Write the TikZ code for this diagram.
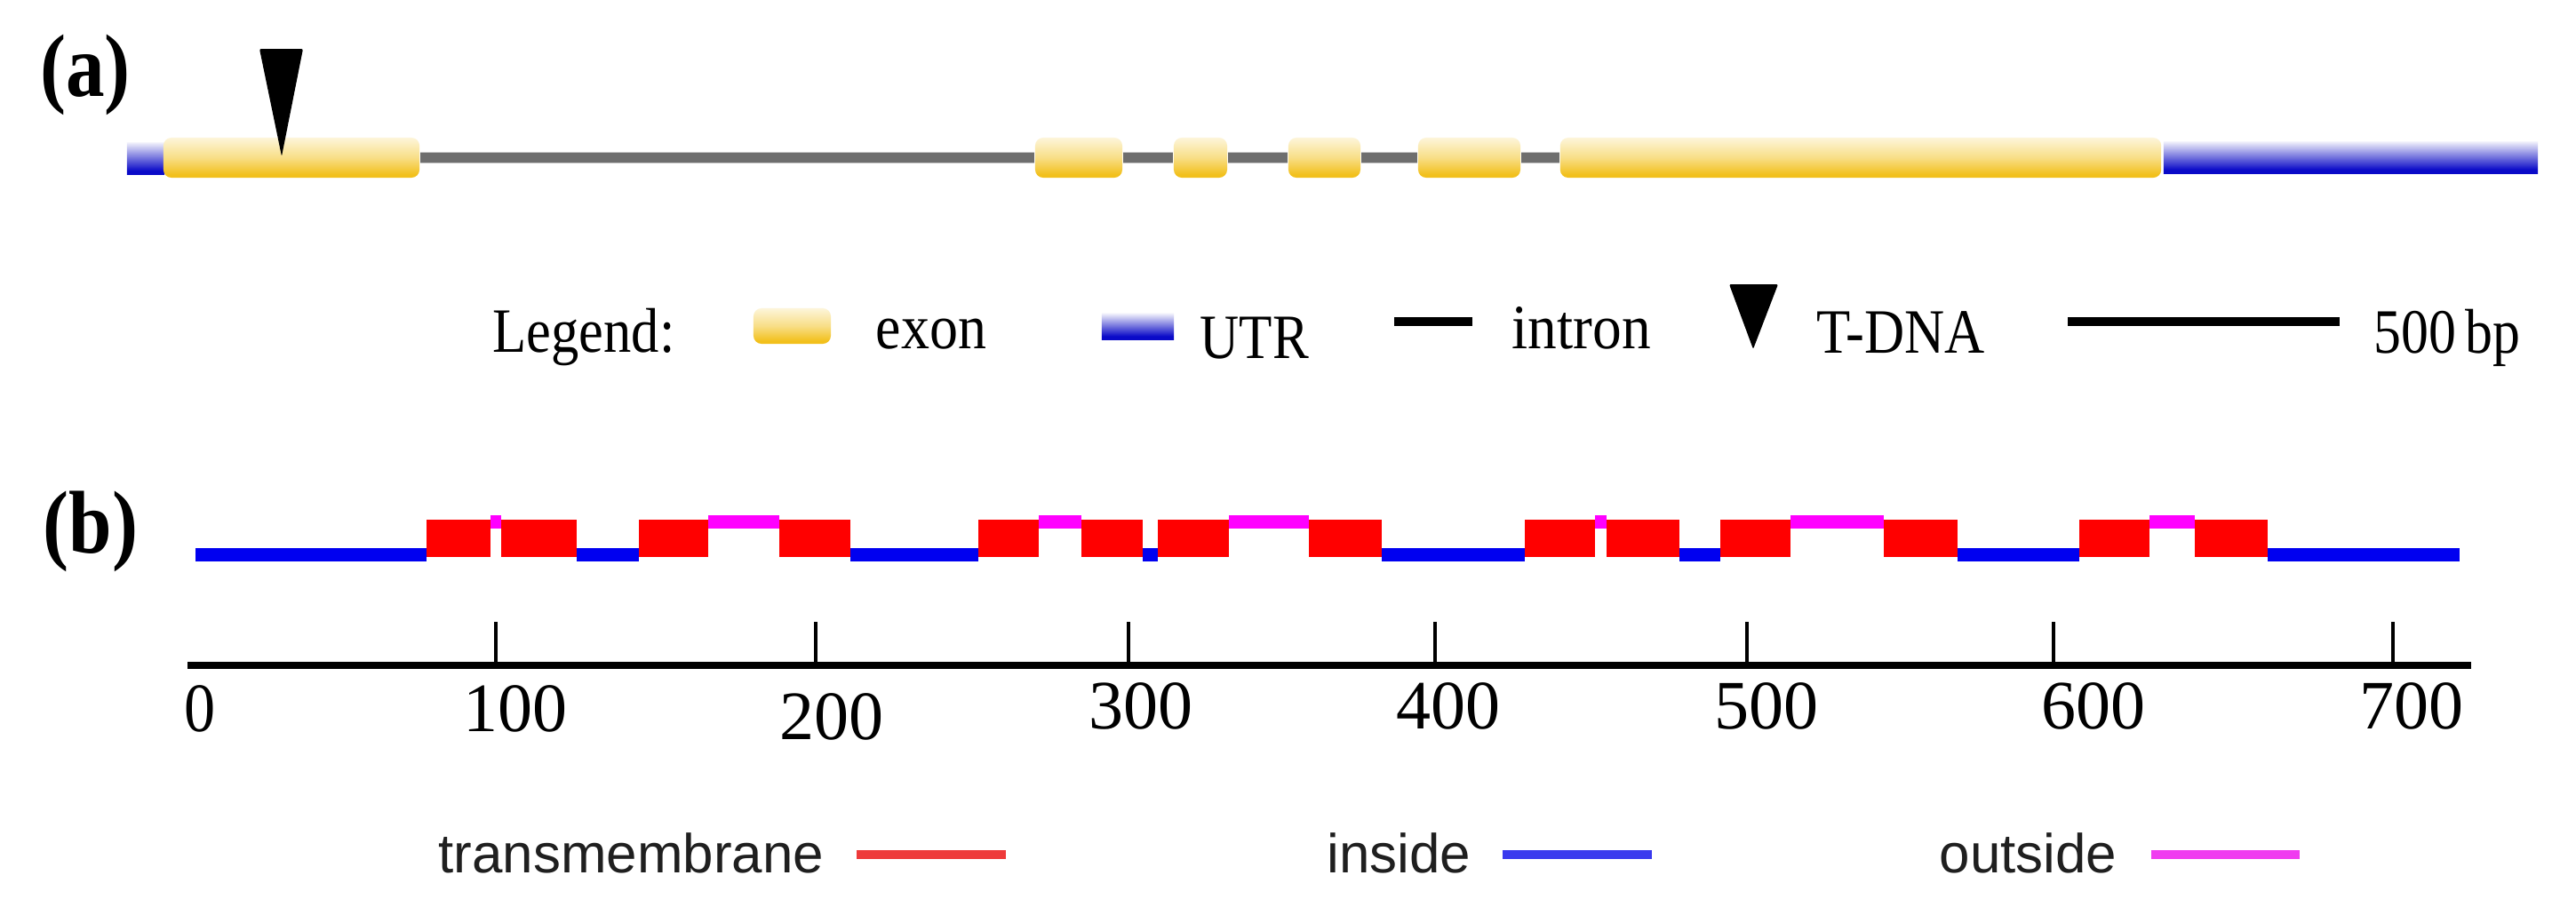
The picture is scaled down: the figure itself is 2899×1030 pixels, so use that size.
\documentclass[tikz,border=0pt]{standalone}
\usepackage{fontspec}
\setmainfont{Liberation Serif}
\setsansfont{Liberation Sans}
\usetikzlibrary{backgrounds}
\definecolor{exTop}{HTML}{FDF5DA}
\definecolor{exMid}{HTML}{F8DE86}
\definecolor{exBot}{HTML}{F2C01C}
\definecolor{utrTop}{HTML}{F0F0FB}
\definecolor{utrMid}{HTML}{7878DE}
\definecolor{utrBot}{HTML}{0A0AC8}
\definecolor{intronGray}{HTML}{6E6E6E}
\definecolor{intronEdge}{HTML}{C4C4C4}
\definecolor{tmRed}{HTML}{FF0000}
\definecolor{inBlue}{HTML}{0000F0}
\definecolor{outMag}{HTML}{FF00FF}
\definecolor{legRed}{HTML}{EE3A3A}
\definecolor{legBlue}{HTML}{3A3AEE}
\definecolor{legMag}{HTML}{F03CF0}
\pgfdeclareverticalshading{exonshade}{100bp}{color(0bp)=(exBot); color(29bp)=(exBot); color(50bp)=(exMid); color(75bp)=(exTop); color(100bp)=(exTop)}
\pgfdeclareverticalshading{utrshade}{100bp}{color(0bp)=(utrBot); color(31bp)=(utrBot); color(52bp)=(utrMid); color(75bp)=(utrTop); color(100bp)=(utrTop)}
\tikzset{
  exon/.style={rectangle, rounded corners=0.09cm, inner sep=0pt, minimum height=0.45cm, shade, shading=exonshade},
  utr/.style={rectangle, inner sep=0pt, minimum height=0.36cm, shade, shading=utrshade},
  intron/.style={line width=2.9pt, intronGray},
  intronhalo/.style={line width=3.7pt, intronEdge},
  tdna/.style={fill=black, rounded corners=0.02cm},
  paneltag/.style={inner sep=0pt, font=\fontsize{28.5}{30}\selectfont\bfseries},
  legtext/.style={inner sep=0pt, anchor=base west, font=\fontsize{20.2}{22}\selectfont},
  axlabel/.style={inner sep=0pt, anchor=base, font=\fontsize{22.2}{24}\selectfont},
  sidetext/.style={inner sep=0pt, anchor=base west, font=\sffamily\fontsize{17.6}{19}\selectfont, text=black!88},
  tmbox/.style={fill=tmRed},
  inbar/.style={fill=inBlue},
  outbar/.style={fill=outMag},
  axisline/.style={line width=2.3pt, black},
  axtick/.style={line width=1.3pt, black},
  swatchline/.style={line width=2.6pt},
}
\begin{document}
\begin{tikzpicture}[x=0.01cm, y=-0.01cm]
\useasboundingbox (0,0) rectangle (2899,1030);

% ---------------- panel (a) ----------------
\node[paneltag] (tagA) at (96,84) {\scalebox{0.87}[1]{(a)}};

\node[utr, minimum width=0.42cm] (utrL) at (164,178.5) {};
\node[exon, minimum width=2.88cm] (ex1) at (328,177.5) {};
\node[exon, minimum width=0.98cm] (ex2) at (1214,177.5) {};
\node[exon, minimum width=0.60cm] (ex3) at (1351,177.5) {};
\node[exon, minimum width=0.81cm] (ex4) at (1490.5,177.5) {};
\node[exon, minimum width=1.15cm] (ex5) at (1653.5,177.5) {};
\node[exon, minimum width=6.76cm] (ex6) at (2094,177.5) {};
\node[utr, minimum width=4.21cm] (utrR) at (2645.5,177.5) {};

\begin{scope}[on background layer]
  \fill[white] (0,0) rectangle (2899,1030);
  \foreach \a/\b in {ex1/ex2, ex2/ex3, ex3/ex4, ex4/ex5, ex5/ex6} {
    \draw[intronhalo] (\a.east) -- (\b.west);
    \draw[intron] (\a.east) -- (\b.west);
  }
\end{scope}

% T-DNA insertion
\fill[tdna] (292,55) -- (341,55) -- (317,176) -- cycle;

% legend of (a)
\node[legtext] (legWord) at (554,396) {\scalebox{0.88}[1]{Legend:}};
\node[exon, minimum width=0.87cm, minimum height=0.40cm] (legExon) at (891.5,367) {};
\node[legtext] (legExonT) at (985,392) {\scalebox{0.9}[1]{exon}};
\node[utr, minimum width=0.81cm, minimum height=0.29cm] (legUtr) at (1280.5,367.5) {};
\node[legtext] (legUtrT) at (1350,403) {\scalebox{0.86}[1]{UTR}};
\draw[line width=2.8pt, black] (1569,362) -- (1657,362);
\node[legtext] (legIntronT) at (1701,392) {\scalebox{0.92}[1]{intron}};
\fill[tdna] (1946,320) -- (2001,320) -- (1973,393) -- cycle;
\node[legtext] (legTdnaT) at (2044,397) {\scalebox{0.88}[1]{T-DNA}};
\draw[line width=2.8pt, black] (2327,362) -- (2633,362);
\node[legtext] (legScaleT) at (2671,397) {\scalebox{0.87}[1]{500\,bp}};

% ---------------- panel (b) ----------------
\node[paneltag] (tagB) at (102,598) {\scalebox{0.87}[1]{(b)}};

\foreach \a/\b in {220/480, 649/719, 957/1101, 1286/1303, 1555/1716, 1890/1936, 2203/2340, 2552/2768}
  \fill[inbar] (\a,617) rectangle (\b,632);
\foreach \a/\b in {552/564, 797/877, 1169/1217, 1383/1473, 1795/1808, 2015/2120, 2419/2470}
  \fill[outbar] (\a,580) rectangle (\b,595);
\foreach \a/\b in {480/552, 564/649, 719/797, 877/957, 1101/1169, 1217/1286, 1303/1383, 1473/1555, 1716/1795, 1808/1890, 1936/2015, 2120/2203, 2340/2419, 2470/2552}
  \fill[tmbox] (\a,585) rectangle (\b,627);

% axis
\draw[axisline] (211,749) -- (2781,749);
\foreach \x in {558,918,1270,1615,1966,2311,2693}
  \draw[axtick] (\x,700) -- (\x,749);

\node[axlabel] (l0)   at (225,823)  {\scalebox{0.9}[1]{0}};
\node[axlabel] (l100) at (580,823)  {100};
\node[axlabel] (l200) at (936,832)  {200};
\node[axlabel] (l300) at (1284,820) {300};
\node[axlabel] (l400) at (1630,820) {400};
\node[axlabel] (l500) at (1988,820) {500};
\node[axlabel] (l600) at (2356,820) {600};
\node[axlabel] (l700) at (2714,820) {700};

% legend of (b)
\node[sidetext] (legTm) at (493,982) {transmembrane};
\draw[swatchline, legRed] (964,962) -- (1132,962);
\node[sidetext] (legIn) at (1493,982) {inside};
\draw[swatchline, legBlue] (1691,962) -- (1859,962);
\node[sidetext] (legOut) at (2182,982) {outside};
\draw[swatchline, legMag] (2421,962) -- (2588,962);
\end{tikzpicture}
\end{document}
